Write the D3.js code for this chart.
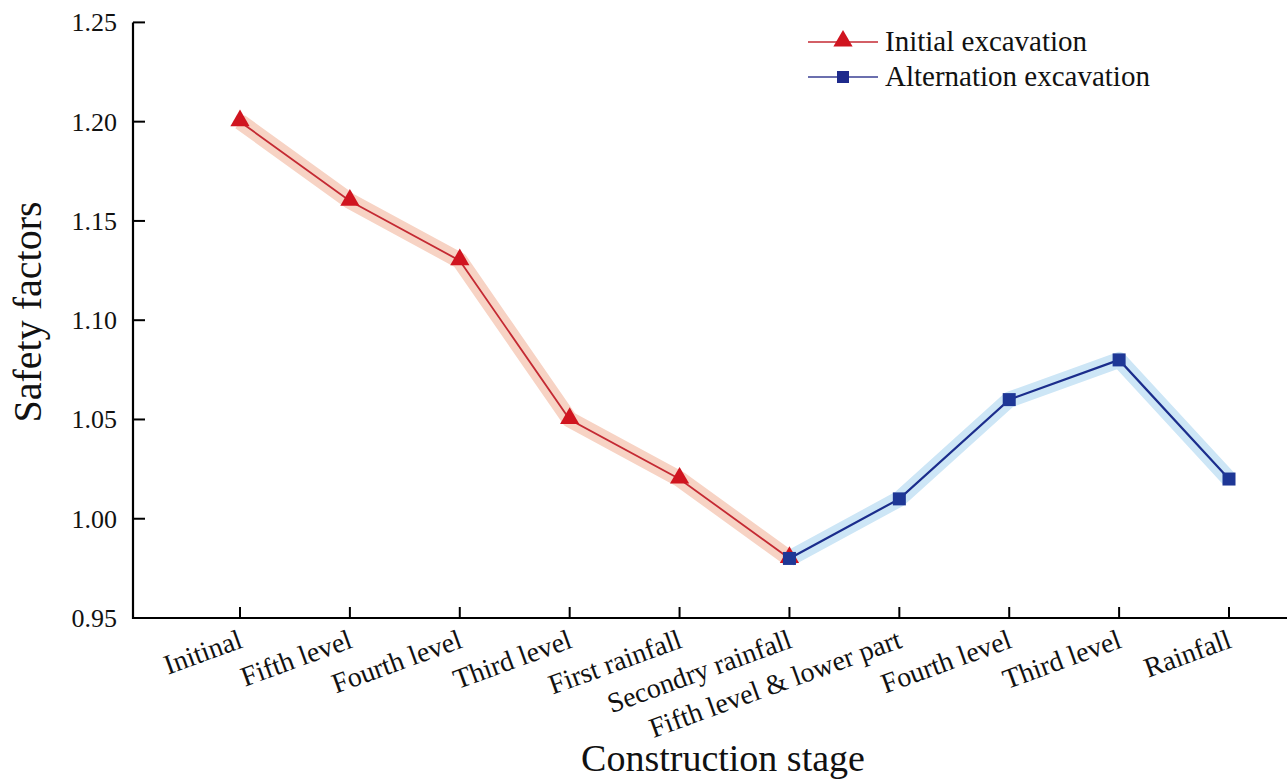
<!DOCTYPE html>
<html>
<head>
<meta charset="utf-8">
<script src="https://cdn.jsdelivr.net/npm/d3@7"></script>
<style>
  html, body { margin: 0; padding: 0; background: #fff; }
  svg text { font-family: "Liberation Serif", "Times New Roman", serif; fill: #111; }
</style>
</head>
<body>
<svg id="chart" width="1287" height="781"></svg>
<script>
// Construction stages along the x axis
const stages = ["Initinal", "Fifth level", "Fourth level", "Third level", "First rainfall",
  "Secondry rainfall", "Fifth level & lower part", "Fourth level", "Third level", "Rainfall"];

// Safety factor series (indices into stages)
const initialIdx = [0, 1, 2, 3, 4, 5];
const initialValues = [1.20, 1.16, 1.13, 1.05, 1.02, 0.98];
const alternIdx = [5, 6, 7, 8, 9];
const alternValues = [0.98, 1.01, 1.06, 1.08, 1.02];

const yTicks = [0.95, 1.00, 1.05, 1.10, 1.15, 1.20, 1.25];

const svg = d3.select("#chart");
const axisX0 = 133, axisY0 = 618, yTop = 22.4;

const x = d3.scalePoint().domain(d3.range(stages.length)).range([240, 1229]);
const y = d3.scaleLinear().domain([0.95, 1.25]).range([axisY0, yTop]);

// Axes
const gx = svg.append("g").attr("transform", `translate(0,${axisY0})`);
gx.append("line").attr("x1", axisX0).attr("x2", 1287).attr("stroke", "#000").attr("stroke-width", 2.2);
gx.selectAll("line.tick").data(d3.range(stages.length)).join("line")
  .attr("class", "tick")
  .attr("x1", d => x(d)).attr("x2", d => x(d)).attr("y1", 0).attr("y2", -11)
  .attr("stroke", "#000").attr("stroke-width", 2);
gx.selectAll("text").data(stages).join("text")
  .attr("text-anchor", "end")
  .attr("font-size", 28)
  .attr("transform", (d, i) => `translate(${x(i) + 4},${29}) rotate(-20)`)
  .text(d => d);

const gy = svg.append("g");
gy.append("line").attr("x1", axisX0).attr("x2", axisX0).attr("y1", axisY0 + 1).attr("y2", yTop)
  .attr("stroke", "#000").attr("stroke-width", 2.2);
gy.selectAll("line.tick").data(yTicks).join("line")
  .attr("class", "tick")
  .attr("x1", axisX0).attr("x2", axisX0 + 12).attr("y1", d => y(d)).attr("y2", d => y(d))
  .attr("stroke", "#000").attr("stroke-width", 2);
gy.selectAll("text").data(yTicks).join("text")
  .attr("x", 117).attr("y", d => y(d) + 9)
  .attr("text-anchor", "end").attr("font-size", 26)
  .text(d => d.toFixed(2));

// Axis titles
svg.append("text").attr("text-anchor", "middle").attr("font-size", 40)
  .attr("transform", `translate(41,312) rotate(-90)`).text("Safety factors");
svg.append("text").attr("text-anchor", "middle").attr("font-size", 38)
  .attr("x", 723).attr("y", 771).text("Construction stage");

const line = d3.line().x(d => x(d[0])).y(d => y(d[1]));
const initialPts = initialIdx.map((k, i) => [k, initialValues[i]]);
const alternPts = alternIdx.map((k, i) => [k, alternValues[i]]);

// Soft bands behind the lines
svg.append("path").datum(initialPts).attr("d", line).attr("fill", "none")
  .attr("stroke", "#f7d3c4").attr("stroke-width", 16).attr("stroke-linejoin", "round");
svg.append("path").datum(alternPts).attr("d", line).attr("fill", "none")
  .attr("stroke", "#cde6f6").attr("stroke-width", 16).attr("stroke-linejoin", "round");

// Lines
svg.append("path").datum(initialPts).attr("d", line).attr("fill", "none")
  .attr("stroke", "#c42a33").attr("stroke-width", 1.8);
svg.append("path").datum(alternPts).attr("d", line).attr("fill", "none")
  .attr("stroke", "#1b2d8c").attr("stroke-width", 2.2);

// Markers
const tri = d3.symbol().type(d3.symbolTriangle).size(160);
svg.selectAll("path.tri").data(initialPts).join("path").attr("class", "tri")
  .attr("d", tri).attr("fill", "#d0141f")
  .attr("transform", d => `translate(${x(d[0])},${y(d[1]) - 1})`);
svg.selectAll("rect.sq").data(alternPts).join("rect").attr("class", "sq")
  .attr("x", d => x(d[0]) - 6.5).attr("y", d => y(d[1]) - 6.5)
  .attr("width", 13).attr("height", 13).attr("fill", "#1e3796");

// Legend
const legend = svg.append("g");
const lg = [
  { label: "Initial excavation", color: "#c42a33", mark: "tri", y: 42 },
  { label: "Alternation excavation", color: "#3a3f93", mark: "sq", y: 77 }
];
lg.forEach(d => {
  legend.append("line").attr("x1", 808).attr("x2", 878).attr("y1", d.y).attr("y2", d.y)
    .attr("stroke", d.color).attr("stroke-width", 1.5);
  if (d.mark === "tri") {
    legend.append("path").attr("d", tri).attr("fill", "#d0141f")
      .attr("transform", `translate(843,${d.y - 1})`);
  } else {
    legend.append("rect").attr("x", 837).attr("y", d.y - 6).attr("width", 12).attr("height", 12)
      .attr("fill", "#1e2a8c");
  }
  legend.append("text").attr("x", 885).attr("y", d.y + 9).attr("font-size", 29).text(d.label);
});
</script>
</body>
</html>
